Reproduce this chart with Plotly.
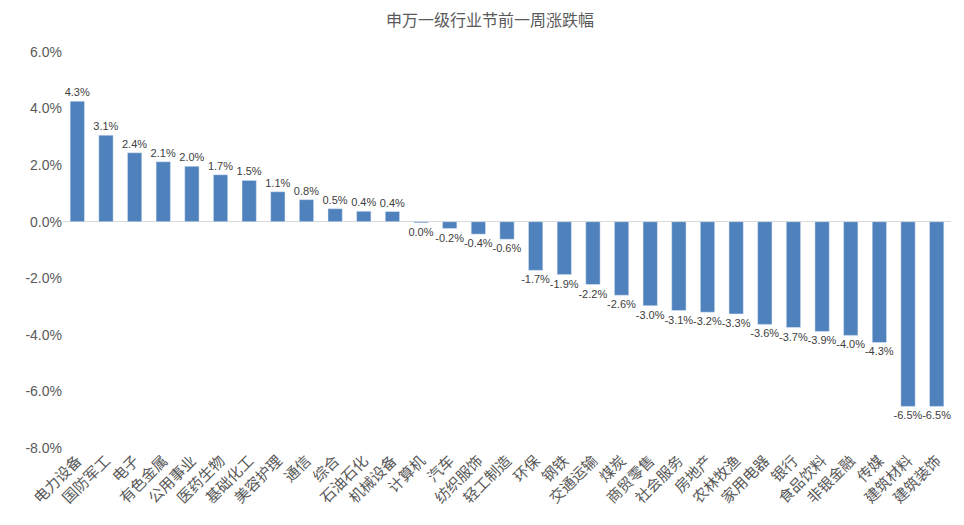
import plotly.graph_objects as go

categories = ["电力设备", "国防军工", "电子", "有色金属", "公用事业", "医药生物", "基础化工", "美容护理",
              "通信", "综合", "石油石化", "机械设备", "计算机", "汽车", "纺织服饰", "轻工制造", "环保",
              "钢铁", "交通运输", "煤炭", "商贸零售", "社会服务", "房地产", "农林牧渔", "家用电器",
              "银行", "食品饮料", "非银金融", "传媒", "建筑材料", "建筑装饰"]
values = [4.26, 3.06, 2.44, 2.12, 1.96, 1.66, 1.46, 1.06, 0.78, 0.46, 0.37, 0.36, -0.04, -0.24,
          -0.44, -0.62, -1.72, -1.87, -2.22, -2.60, -2.97, -3.14, -3.20, -3.26, -3.63, -3.74,
          -3.88, -4.02, -4.27, -6.53, -6.53]
y_ticks = [6, 4, 2, 0, -2, -4, -6, -8]

def fmt(v):
    s = f"{v:.1f}"
    if s == "-0.0":
        s = "0.0"
    return s + "%"

labels = [fmt(v) for v in values]

fig = go.Figure(go.Bar(
    x=categories, y=values, text=labels, textposition="outside", constraintext="none",
    textfont=dict(size=11, color="#404040", family="Liberation Sans, Arial"),
    marker=dict(color="#4f81bd"), cliponaxis=False,
))

fig.update_layout(
    width=964, height=525,
    margin=dict(l=55, r=21, t=44, b=85),
    paper_bgcolor="white", plot_bgcolor="white",
    bargap=0.5, showlegend=False,
    title=dict(text="申万一级行业节前一周涨跌幅", x=0.5, xanchor="center", y=0.976, yanchor="middle",
               font=dict(size=16, color="#595959", family="Noto Sans CJK SC")),
    font=dict(family="Noto Sans CJK SC", color="#595959"),
)
fig.update_xaxes(tickangle=-45, tickfont=dict(size=15, color="#595959", family="Noto Sans CJK SC"),
                 showline=False, showgrid=False, ticks="", automargin=False)
fig.update_yaxes(range=[-8, 6], tickvals=y_ticks, ticktext=[f"{t:.1f}%" for t in y_ticks],
                 tickfont=dict(size=14, color="#595959", family="Liberation Sans, Arial"),
                 showgrid=False, zeroline=True, zerolinecolor="#d9d9d9", zerolinewidth=1,
                 showline=False, ticks="", automargin=False)

fig.write_html("out.html")
